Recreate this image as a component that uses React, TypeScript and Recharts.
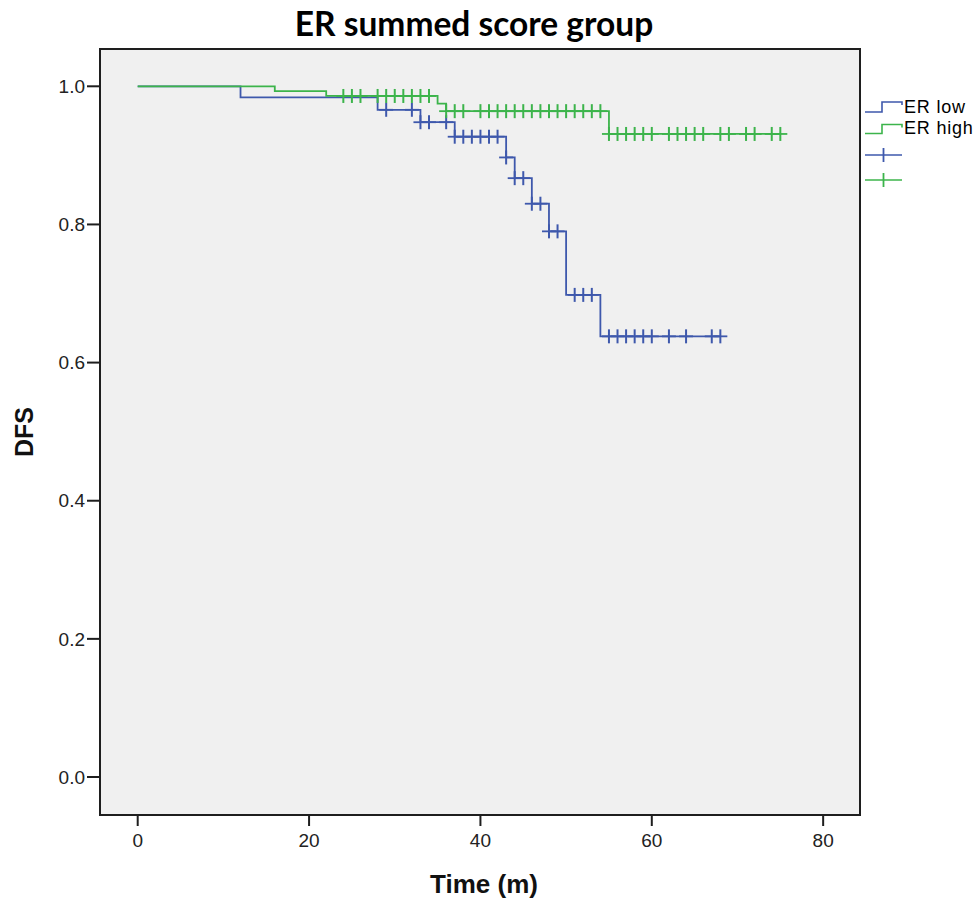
import React from 'react';
import { ComposedChart, Line, Scatter, XAxis, YAxis, CartesianGrid, ReferenceArea } from 'recharts';

// Kaplan-Meier estimates (time in months)
const lowTimes = [0, 12, 28, 33, 37, 43, 44, 46, 48, 50, 54];
const lowSurv = [1, 0.984, 0.966, 0.948, 0.927, 0.897, 0.867, 0.83, 0.79, 0.698, 0.638];
const lowLastFollowUp = 68;
const lowCensored = [
    29, 32, 33, 34, 36, 37, 38, 39, 40, 41, 42, 43, 44, 45, 46, 47, 48, 49, 51, 52, 53,
    55, 56, 57, 58, 59, 60, 62, 64, 67, 68,
];

const highTimes = [0, 16, 22, 35, 36, 55];
const highSurv = [1, 0.993, 0.986, 0.975, 0.964, 0.931];
const highLastFollowUp = 75;
const highCensored = [
    24, 25, 26, 28, 29, 30, 31, 32, 33, 34, 36, 37, 38, 40, 41, 42, 43, 44, 45, 46, 47, 48,
    49, 50, 51, 52, 53, 54, 55, 56, 57, 58, 59, 60, 62, 63, 64, 65, 66, 68, 69, 71, 72, 74, 75,
];

const xTicks = [0, 20, 40, 60, 80];
const yTicks = [0, 0.2, 0.4, 0.6, 0.8, 1.0];
const groupNames = ['ER low', 'ER high'];

const BLUE = '#3E58AC';
const GREEN = '#3CB44B';
const FRAME = '#1e1e1e';

const xDomain: [number, number] = [-4.4, 84.3];
const yDomain: [number, number] = [-0.055, 1.054];

const levelAt = (times: number[], surv: number[], t: number) => {
    let v = surv[0];
    times.forEach((tt, i) => {
        if (tt <= t) v = surv[i];
    });
    return v;
};

const stepData = (times: number[], surv: number[], last: number) => [
    ...times.map((t, i) => ({ t, s: surv[i] })),
    { t: last, s: surv[surv.length - 1] },
];

const lowLine = stepData(lowTimes, lowSurv, lowLastFollowUp);
const highLine = stepData(highTimes, highSurv, highLastFollowUp);
const lowMarks = lowCensored.map((t) => ({ t, s: levelAt(lowTimes, lowSurv, t) }));
const highMarks = highCensored.map((t) => ({ t, s: levelAt(highTimes, highSurv, t) }));

const makeCross = (color: string) => (props: any) => {
    const { cx, cy } = props;
    return (
        <g>
            <line x1={cx - 7} x2={cx + 7} y1={cy} y2={cy} stroke={color} strokeWidth={1.8} />
            <line x1={cx} x2={cx} y1={cy - 7} y2={cy + 7} stroke={color} strokeWidth={2} />
        </g>
    );
};

const tickStyle = { fill: '#222', fontSize: 19, fontFamily: '"Liberation Sans", Arial, sans-serif' };
const labelFont = '"Liberation Sans", Arial, sans-serif';

const App: React.FC = () => {
    return (
        <div style={{ position: 'absolute', left: 0, top: 0, width: 973, height: 899, background: '#fff' }}>
            <ComposedChart width={973} height={899} margin={{ top: 49, right: 113, bottom: 0, left: 0 }}>
                <CartesianGrid horizontal={false} vertical={false} fill="#F0F0F0" />
                <ReferenceArea
                    x1={xDomain[0]}
                    x2={xDomain[1]}
                    y1={yDomain[0]}
                    y2={yDomain[1]}
                    fill="none"
                    stroke={FRAME}
                    strokeWidth={2}
                    ifOverflow="visible"
                />
                <XAxis
                    dataKey="t"
                    type="number"
                    domain={xDomain}
                    ticks={xTicks}
                    height={84}
                    stroke={FRAME}
                    strokeWidth={2}
                    tickSize={11}
                    tickMargin={8}
                    tick={tickStyle}
                    label={{
                        value: 'Time (m)',
                        position: 'insideBottom',
                        offset: 6,
                        dx: 4,
                        style: { fontSize: 26, fontWeight: 700, fill: '#111', fontFamily: labelFont },
                    }}
                />
                <YAxis
                    type="number"
                    domain={yDomain}
                    ticks={yTicks}
                    width={100}
                    stroke={FRAME}
                    strokeWidth={2}
                    tickSize={13}
                    tickMargin={2}
                    tick={tickStyle}
                    tickFormatter={(v: number) => v.toFixed(1)}
                    label={{
                        value: 'DFS',
                        angle: -90,
                        position: 'insideLeft',
                        offset: 24,
                        style: { textAnchor: 'middle', fontSize: 25, fontWeight: 700, fill: '#111', fontFamily: labelFont },
                    }}
                />
                <Line
                    data={lowLine}
                    dataKey="s"
                    type="stepAfter"
                    stroke={BLUE}
                    strokeWidth={1.8}
                    dot={false}
                    activeDot={false}
                    isAnimationActive={false}
                />
                <Line
                    data={highLine}
                    dataKey="s"
                    type="stepAfter"
                    stroke={GREEN}
                    strokeWidth={1.8}
                    dot={false}
                    activeDot={false}
                    isAnimationActive={false}
                />
                <Scatter data={lowMarks} dataKey="s" shape={makeCross(BLUE)} isAnimationActive={false} />
                <Scatter data={highMarks} dataKey="s" shape={makeCross(GREEN)} isAnimationActive={false} />
            </ComposedChart>

            {/* title + legend drawn on top, SPSS style */}
            <svg width={973} height={899} style={{ position: 'absolute', left: 0, top: 0, pointerEvents: 'none' }}>
                <text x={474} y={36} textAnchor="middle" fontFamily="Lato, sans-serif" fontWeight={700} fontSize={33.5} fill="#000">
                    ER summed score group
                </text>
                <path d="M865,112 H882 V102 H902 V105" fill="none" stroke={BLUE} strokeWidth={1.6} />
                <path d="M865,133.5 H882 V124.5 H902 V127.5" fill="none" stroke={GREEN} strokeWidth={1.6} />
                <text x={904} y={113} fontFamily={labelFont} fontSize={18} letterSpacing={0.8} fill="#000">
                    {groupNames[0]}
                </text>
                <text x={904} y={134} fontFamily={labelFont} fontSize={18} letterSpacing={0.8} fill="#000">
                    {groupNames[1]}
                </text>
                <line x1={865} x2={902} y1={155} y2={155} stroke={BLUE} strokeWidth={1.6} />
                <line x1={883.5} x2={883.5} y1={148} y2={162} stroke={BLUE} strokeWidth={1.8} />
                <line x1={865} x2={902} y1={180} y2={180} stroke={GREEN} strokeWidth={1.6} />
                <line x1={883.5} x2={883.5} y1={173} y2={187} stroke={GREEN} strokeWidth={1.8} />
            </svg>
        </div>
    );
};

export default App;
